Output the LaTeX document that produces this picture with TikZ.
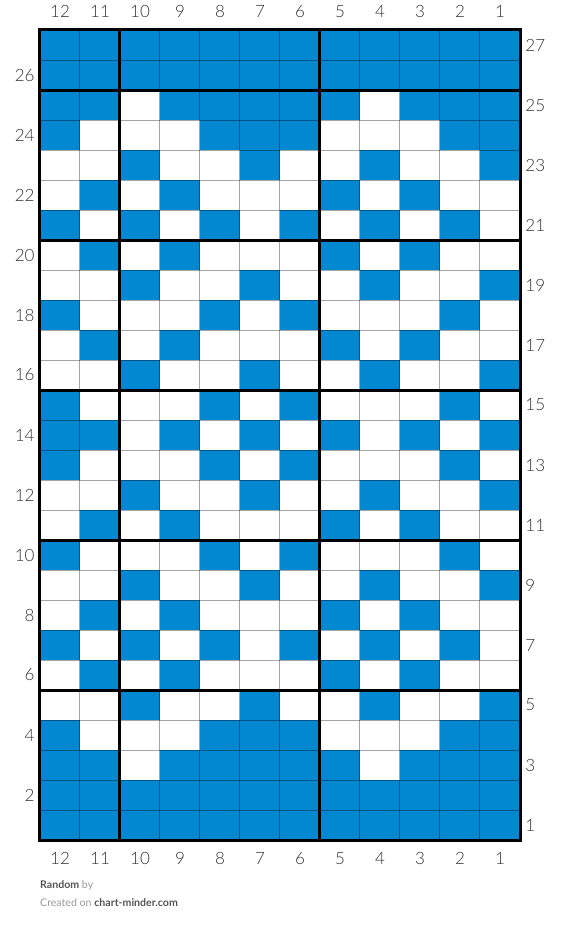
\documentclass[tikz,border=0pt]{standalone}
\usepackage{fontspec}
\setmainfont{Lato}
\newfontfamily\numfont{Lato Light}
\usepackage{tikz}
\usetikzlibrary{positioning}
\definecolor{chartblue}{HTML}{0288D1}
\definecolor{numgray}{HTML}{333333}
\definecolor{footgray}{HTML}{555555}
\definecolor{lightgray2}{HTML}{9A9A9A}
\newcommand{\footbold}[1]{\bfseries\color{footgray}#1\mdseries}
\tikzset{
	cellnode/.style={
			shape=rectangle,
			minimum height=30pt,
			minimum width=40pt,
			inner sep=0pt,
			draw=none
		}
}
\tikzset{
	thinline/.style={
			draw=black,
			draw opacity=0.35,
			line width=1pt
		},
	thickline/.style={
			draw=black,
			line width=2.8pt
		},
	labelnode/.style={
			inner sep=0pt,
			text=numgray,
			font=\numfont\fontsize{17}{17}\selectfont
		},
	footnode/.style={
			inner sep=0pt,
			anchor=west,
			font=\fontsize{10.6}{11}\selectfont
		}
}

\begin{document}
\begin{tikzpicture}[x=1pt,y=-1pt]
\useasboundingbox (0,0) rectangle (560,933);

\foreach \pat [count=\k] in {
	{1,1,1,1,1,1,1,1,1,1,1,1},
	{1,1,1,1,1,1,1,1,1,1,1,1},
	{1,1,0,1,1,1,1,1,0,1,1,1},
	{1,0,0,0,1,1,1,0,0,0,1,1},
	{0,0,1,0,0,1,0,0,1,0,0,1},
	{0,1,0,1,0,0,0,1,0,1,0,0},
	{1,0,1,0,1,0,1,0,1,0,1,0},
	{0,1,0,1,0,0,0,1,0,1,0,0},
	{0,0,1,0,0,1,0,0,1,0,0,1},
	{1,0,0,0,1,0,1,0,0,0,1,0},
	{0,1,0,1,0,0,0,1,0,1,0,0},
	{0,0,1,0,0,1,0,0,1,0,0,1},
	{1,0,0,0,1,0,1,0,0,0,1,0},
	{1,1,0,1,0,1,0,1,0,1,0,1},
	{1,0,0,0,1,0,1,0,0,0,1,0},
	{0,0,1,0,0,1,0,0,1,0,0,1},
	{0,1,0,1,0,0,0,1,0,1,0,0},
	{1,0,0,0,1,0,1,0,0,0,1,0},
	{0,0,1,0,0,1,0,0,1,0,0,1},
	{0,1,0,1,0,0,0,1,0,1,0,0},
	{1,0,1,0,1,0,1,0,1,0,1,0},
	{0,1,0,1,0,0,0,1,0,1,0,0},
	{0,0,1,0,0,1,0,0,1,0,0,1},
	{1,0,0,0,1,1,1,0,0,0,1,1},
	{1,1,0,1,1,1,1,1,0,1,1,1},
	{1,1,1,1,1,1,1,1,1,1,1,1},
	{1,1,1,1,1,1,1,1,1,1,1,1}}{
	\pgfmathtruncatemacro\r{28-\k}
	\foreach \v [count=\j] in \pat {
		\pgfmathtruncatemacro\c{13-\j}
		\ifnum\v=1 \def\cellcol{chartblue}\else\def\cellcol{white}\fi
		\node[cellnode, fill=\cellcol] (c\r-\c) at ({40*\j+20},{855-30*\r}) {};
	}
}

\foreach \c in {1,...,11}
	\draw[thinline] (c27-\c.north west) -- (c1-\c.south west);
\foreach \r in {2,...,27}
	\draw[thinline] (c\r-12.south west) -- (c\r-1.south east);

\foreach \c in {5,10}
	\draw[thickline] (c27-\c.north west) -- (c1-\c.south west);
\foreach \r in {6,11,16,21,26}
	\draw[thickline] (c\r-12.south west) -- (c\r-1.south east);
\draw[thickline] (c27-12.north west) rectangle (c1-1.south east);

\foreach \c in {1,...,12} {
	\node[labelnode, above=12pt of c27-\c] (t\c) {\c};
	\node[labelnode, below=12pt of c1-\c] (b\c) {\c};
}
\foreach \r in {2,4,...,26}
	\node[labelnode, left=5pt of c\r-12] (l\r) {\r};
\foreach \r in {1,3,...,27}
	\node[labelnode, right=5pt of c\r-1] (r\r) {\r};

\node[footnode] (foot1) at (40,885) {\footbold{Random} {\color{lightgray2}by}};
\node[footnode] (foot2) at (40,903) {{\color{lightgray2}Created on} \footbold{chart-minder.com}};

\end{tikzpicture}
\end{document}
